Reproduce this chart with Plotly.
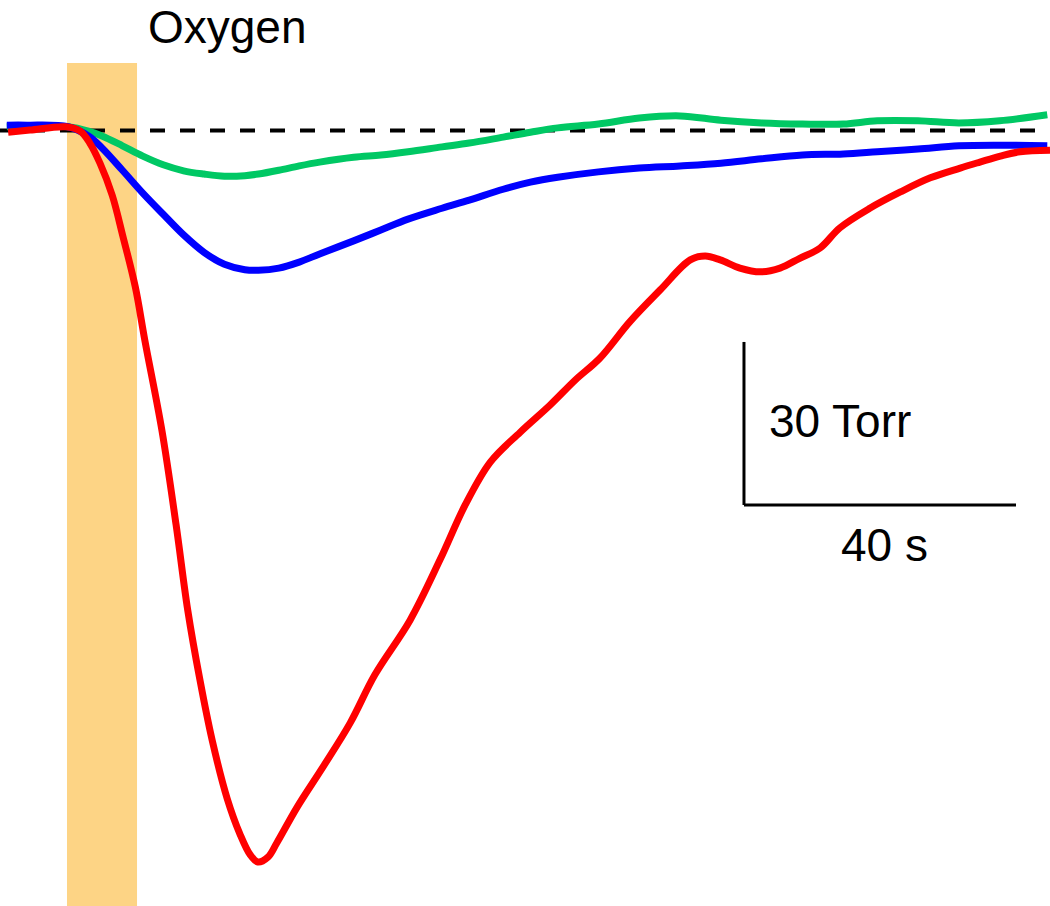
import plotly.graph_objects as go

# ---- data (time in s, oxygen tension change in Torr) ----
red_t = [1.2, 4.4, 9.7, 11.8, 13.2, 14.7, 16.5, 18.1, 19.9, 21.3, 23.8, 25.9, 27.6, 29.4,
         31.2, 33.4, 35.3, 36.8, 37.9, 39.4, 40.7, 43.7, 47.5, 51.5, 55.1, 60.3, 64.7, 68.4,
         72.1, 76.5, 80.9, 84.6, 88.2, 92.6, 97.1, 101.5, 103.7, 105.9, 108.8, 111.8,
         114.7, 117.6, 120.6, 123.5, 127.9, 132.4, 136.8, 141.2, 144.1, 147.1, 150.0, 154.4]
red_v = [-0.4, 0.0, 0.6, -0.2, -2.4, -6.1, -12.0, -19.7, -28.9, -38.7, -55.2, -72.7, -88.3,
         -101.2, -112.3, -123.0, -129.6, -133.4, -134.7, -133.8, -131.2, -124.6, -117.2,
         -109.1, -100.3, -90.2, -79.1, -69.0, -61.1, -55.6, -50.6, -46.0, -42.0, -35.3,
         -29.4, -23.9, -23.2, -23.9, -25.4, -26.1, -25.4, -23.6, -21.7, -18.0, -14.4,
         -11.4, -8.8, -7.0, -5.9, -4.8, -4.0, -3.7]

bg_t = [1, 4, 10, 13, 15, 18, 21, 24, 27, 30, 33, 36, 38, 41, 44, 47, 52, 56, 60, 65, 69,
        74, 78, 82, 88, 94, 100, 106, 112, 118, 124, 129, 135, 141, 147, 154]
blue_v = [0.9, 0.9, 0.6, -1.1, -3.3, -7.4, -11.6, -15.5, -19.3, -22.5, -24.7, -25.7, -25.8,
          -25.4, -24.3, -22.8, -20.4, -18.4, -16.4, -14.4, -12.9, -10.9, -9.6, -8.7, -7.7,
          -7.0, -6.6, -6.1, -5.3, -4.6, -4.4, -4.0, -3.5, -2.9, -2.8, -2.9]
green_v = [0.6, 0.7, 0.6, -0.2, -1.1, -2.9, -4.8, -6.4, -7.5, -8.1, -8.5, -8.4, -8.1, -7.4,
           -6.6, -5.9, -5.0, -4.6, -4.0, -3.1, -2.4, -1.3, -0.4, 0.4, 1.1, 2.2, 2.6, 1.8,
           1.3, 1.1, 1.1, 1.7, 1.7, 1.3, 1.7, 2.8]

oxygen_start, oxygen_end = 9.85, 20.15
scale_t = 40   # s
scale_v = 30   # Torr

# ---- layout constants ----
X_RANGE = [0, 154.4]
Y_RANGE = [-142.8, 23.93]
SB_X0, SB_Y0 = 109.4, -69.0
FONT = "Liberation Sans, Arial, sans-serif"
LW = 7

fig = go.Figure()

# oxygen application bar
fig.add_shape(type="rect", x0=oxygen_start, x1=oxygen_end, y0=Y_RANGE[0], y1=12.33,
              fillcolor="#FDD485", line_width=0, layer="below")

# baseline
fig.add_trace(go.Scatter(x=X_RANGE, y=[-0.1, -0.1], mode="lines",
                         line=dict(color="black", width=4, dash="15px,15px"),
                         hoverinfo="skip", showlegend=False))

fig.add_trace(go.Scatter(x=bg_t, y=green_v, mode="lines", line=dict(color="#00C864", width=LW, shape="spline"),
                         showlegend=False))
fig.add_trace(go.Scatter(x=bg_t, y=blue_v, mode="lines", line=dict(color="#0000FF", width=LW, shape="spline"),
                         showlegend=False))
fig.add_trace(go.Scatter(x=red_t, y=red_v, mode="lines", line=dict(color="#FF0000", width=LW, shape="spline"),
                         showlegend=False))

# scale bar
fig.add_shape(type="line", x0=SB_X0, x1=SB_X0, y0=SB_Y0, y1=SB_Y0 + scale_v,
              line=dict(color="black", width=3))
fig.add_shape(type="line", x0=SB_X0, x1=SB_X0 + scale_t, y0=SB_Y0, y1=SB_Y0,
              line=dict(color="black", width=3))

fig.add_annotation(x=SB_X0 + 3.4, y=SB_Y0 + scale_v / 2 + 0.5, text=f"{scale_v} Torr", showarrow=False,
                   xanchor="left", yanchor="middle", font=dict(family=FONT, size=46, color="black"))
fig.add_annotation(x=SB_X0 + 20.7, y=SB_Y0 - 7.4, text=f"{scale_t} s", showarrow=False,
                   xanchor="center", yanchor="middle", font=dict(family=FONT, size=46, color="black"))
fig.add_annotation(x=21.5, y=19.0, text="Oxygen", showarrow=False,
                   xanchor="left", yanchor="middle", font=dict(family=FONT, size=46, color="black"))

fig.update_layout(width=1050, height=906, margin=dict(l=0, r=0, t=0, b=0),
                  paper_bgcolor="white", plot_bgcolor="white",
                  xaxis=dict(range=X_RANGE, visible=False, fixedrange=True),
                  yaxis=dict(range=Y_RANGE, visible=False, fixedrange=True))

fig.write_html("out.html")
